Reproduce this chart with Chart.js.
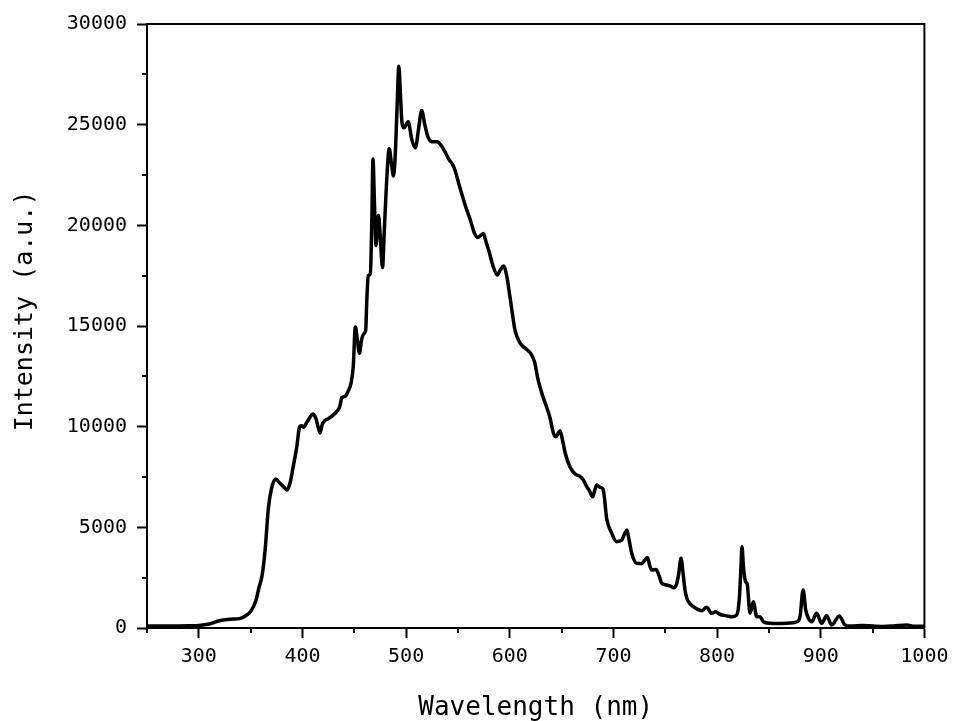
<!DOCTYPE html>
<html>
<head>
<meta charset="utf-8">
<script src="https://cdn.jsdelivr.net/npm/chart.js@4.4.1/dist/chart.umd.min.js"></script>
<style>
  html, body { margin: 0; padding: 0; background: #fff; }
  #wrap { width: 953px; height: 721px; }
</style>
</head>
<body>
<div id="wrap"><canvas id="spectrum"></canvas></div>
<script>
// spectrum (nm, a.u.)
const wavelengths = [
  250, 270, 290, 300, 310, 320, 330, 340, 345, 350, 355, 358, 361, 364, 367, 370, 374, 378, 382, 385,
  388, 391, 394.5, 397, 399, 401, 404, 407, 410, 413, 415, 417, 419, 421, 425, 429, 433, 436, 438, 441,
  444, 447, 449, 451, 453, 455, 457, 459, 461, 462, 463.5, 465.5, 467, 468, 469.5, 471, 473.3, 475, 477.2, 479,
  481, 483.7, 486, 487.8, 489.5, 491, 493, 494.5, 496, 498, 502, 505.5, 509, 512, 515, 518, 521, 525, 530, 534,
  538, 541, 546, 552, 557, 562, 566, 569, 572, 574.6, 577, 580, 584, 588, 591, 594, 597, 600, 602, 605,
  610, 616, 620, 624, 627, 631, 635, 639, 642, 644.5, 648.5, 651, 653.5, 658, 663, 668, 671, 674, 677, 680,
  682, 684, 687, 690, 693.6, 698.4, 703, 708, 711, 713, 715, 717.7, 722.5, 727.3, 730, 732.8, 735, 737, 741, 744,
  746.6, 751, 755, 758, 761, 763, 765.2, 767, 769, 771, 774, 777, 781, 785, 790, 794.8, 798.7, 802, 804.5, 810,
  814, 818.9, 821.5, 823, 824, 825.5, 827.5, 829, 831.8, 835, 838.2, 841.4, 844.6, 851, 860, 870, 877, 880, 883, 885.5,
  888, 891.3, 896, 900.9, 905.7, 910.6, 918, 923.4, 930, 940, 950, 960, 970, 983, 990, 1000
];
const intensity = [
  100, 100, 110, 130, 200, 360, 430, 480, 600, 820, 1350, 2000, 2600, 3900, 5900, 6900, 7400, 7200, 7000, 6850,
  7200, 8000, 9000, 9950, 10050, 9970, 10200, 10450, 10630, 10400, 10000, 9700, 10100, 10280, 10400, 10550, 10750, 11000, 11450, 11500,
  11750, 12200, 13000, 14950, 14300, 13650, 14300, 14600, 14800, 16200, 17500, 17600, 20500, 23300, 21000, 19000, 20500, 19500, 17900, 19800,
  22000, 23800, 23000, 22450, 23500, 25500, 27900, 26500, 25100, 24850, 25150, 24250, 23850, 24800, 25700, 25000, 24400, 24150, 24150, 23950,
  23600, 23300, 22900, 21850, 21000, 20250, 19600, 19400, 19500, 19600, 19200, 18700, 17950, 17530, 17800, 17980, 17500, 16500, 15800, 14800,
  14150, 13850, 13650, 13200, 12400, 11650, 11050, 10400, 9700, 9500, 9800, 9300, 8680, 8010, 7650, 7520, 7350, 7050, 6800, 6520,
  6850, 7100, 6990, 6900, 5400, 4700, 4290, 4370, 4700, 4870, 4400, 3700, 3210, 3200, 3350, 3500, 3100, 2880, 2910, 2600,
  2220, 2140, 2080, 2000, 2200, 2700, 3460, 2800, 1900, 1450, 1200, 1060, 930, 860, 1030, 730, 810, 700, 645, 600,
  560, 645, 1500, 3000, 4040, 3000, 2300, 2200, 730, 1310, 560, 560, 310, 230, 220, 250, 310, 560, 1890, 900,
  500, 310, 730, 230, 610, 150, 600, 150, 100, 120, 100, 80, 100, 150, 90, 80
];

const xTickValues = [300, 400, 500, 600, 700, 800, 900, 1000];
const xMinorTicks = [250, 350, 450, 550, 650, 750, 850, 950];
const yTickValues = [0, 5000, 10000, 15000, 20000, 25000, 30000];
const yMinorTicks = [2500, 7500, 12500, 17500, 22500, 27500];

Chart.defaults.color = '#000';
Chart.defaults.font.family = '"DejaVu Sans Mono", "Liberation Mono", monospace';

// box round the plot plus the short minor ticks
const framePlugin = {
    id: 'frame',
    afterDraw(chart) {
        const { ctx, chartArea, scales } = chart;
        ctx.save();
        ctx.strokeStyle = '#000';
        ctx.lineWidth = 2;
        ctx.beginPath();
        ctx.moveTo(chartArea.left, chartArea.top);
        ctx.lineTo(chartArea.right, chartArea.top);
        ctx.lineTo(chartArea.right, chartArea.bottom);
        ctx.stroke();
        ctx.beginPath();
        xMinorTicks.forEach(v => {
            const px = Math.round(scales.x.getPixelForValue(v));
            ctx.moveTo(px, chartArea.bottom);
            ctx.lineTo(px, chartArea.bottom + 5);
        });
        yMinorTicks.forEach(v => {
            const py = Math.round(scales.y.getPixelForValue(v));
            ctx.moveTo(chartArea.left, py);
            ctx.lineTo(chartArea.left - 5, py);
        });
        ctx.stroke();
        ctx.restore();
    }
};

const ctx = document.getElementById('spectrum').getContext('2d');
new Chart(ctx, {
    type: 'line',
    data: {
        datasets: [{
            data: wavelengths.map((w, i) => ({ x: w, y: intensity[i] })),
            borderColor: '#000',
            borderWidth: 3.5,
            pointRadius: 0,
            cubicInterpolationMode: 'monotone',
            fill: false,
        }],
    },
    options: {
        responsive: true,
        maintainAspectRatio: false,
        animation: false,
        layout: { padding: { top: 24, right: 28.6, left: 0, bottom: 0 } },
        plugins: { legend: { display: false }, tooltip: { enabled: false } },
        scales: {
            x: {
                type: 'linear',
                min: 250,
                max: 1000,
                afterBuildTicks: (scale) => { scale.ticks = xTickValues.map(v => ({ value: v })); },
                afterFit: (scale) => {
                    scale.height = 93;
                    scale.paddingLeft = 0;
                    scale.paddingRight = 0;
                },
                grid: { drawOnChartArea: false, tickLength: 10, tickWidth: 2, tickColor: '#000' },
                border: { display: true, color: '#000', width: 2 },
                ticks: { font: { size: 20 }, padding: 7, maxRotation: 0, callback: v => String(v) },
                title: {
                    display: true,
                    text: 'Wavelength (nm)',
                    font: { size: 26, lineHeight: 1 },
                    padding: 0,
                },
            },
            y: {
                min: 0,
                max: 30000,
                afterBuildTicks: (scale) => { scale.ticks = yTickValues.map(v => ({ value: v })); },
                afterFit: (scale) => {
                    scale.width = 147;
                    scale.paddingTop = 0;
                    scale.paddingBottom = 0;
                },
                grid: { drawOnChartArea: false, tickLength: 10, tickWidth: 2, tickColor: '#000' },
                border: { display: true, color: '#000', width: 2 },
                ticks: { font: { size: 20 }, padding: 10, callback: v => String(v) },
                title: {
                    display: true,
                    text: '  Intensity (a.u.)',
                    font: { size: 25, lineHeight: 1 },
                    padding: { top: 13, bottom: 0 },
                },
            },
        },
    },
    plugins: [framePlugin],
});
</script>
</body>
</html>
